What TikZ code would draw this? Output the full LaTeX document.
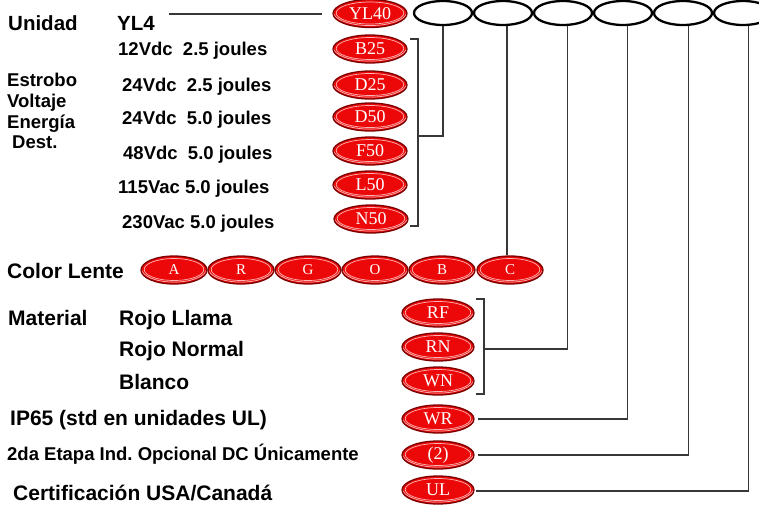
\documentclass[tikz,border=0pt]{standalone}
\usepackage{fontspec}
\usetikzlibrary{shapes.geometric,calc}
\newfontfamily\lsans{Liberation Sans}
\newfontfamily\lserif{Liberation Serif}
\definecolor{btnred}{RGB}{236,8,8}
\definecolor{btndark}{RGB}{125,0,0}
\definecolor{linegray}{RGB}{55,55,55}
\tikzset{
  redbtn/.style={ellipse, minimum width=#1, minimum height=28pt, inner sep=0pt,
    fill=btnred, draw=btndark, line width=1.3pt, text=white,
    font=\lserif\fontsize{18}{18}\selectfont,
    path picture={\path let \p1=(path picture bounding box.north east),
        \p2=(path picture bounding box.south west) in
        [draw=btndark, line width=1.6pt]
        ([yshift=1.6pt]path picture bounding box.center) ellipse
        [x radius={0.5*\x1-0.5*\x2-0.3pt}, y radius={0.5*\y1-0.5*\y2-0.3pt}]
        [draw=white, draw opacity=0.7, line width=0.7pt]
        ([yshift=0.5pt]path picture bounding box.center) ellipse
        [x radius={0.5*\x1-0.5*\x2-3.2pt}, y radius={0.5*\y1-0.5*\y2-3pt}];}},
  redbtn/.default=74pt,
  wov/.style={ellipse, draw=black, line width=2.3pt, minimum width=58pt,
    minimum height=24pt, inner sep=0pt},
  lbl/.style={anchor=base west, inner sep=0pt, font=\lsans\bfseries\fontsize{#1}{#1}\selectfont\frenchspacing},
  lbl/.default=21,
  conn/.style={draw=linegray, line width=1.3pt}
}
\begin{document}
\begin{tikzpicture}[x=1pt,y=-1pt]
\useasboundingbox (0,0) rectangle (759,509);
% text labels
\node[lbl=20.5] (unidad) at (8,30) {Unidad};
\node[lbl=20.5] (yl4) at (117,30) {YL4};
\node[lbl=18.5] (v1) at (118,55) {12Vdc\ \ 2.5 joules};
\node[lbl=18.5] (v2) at (122,91) {24Vdc\ \ 2.5 joules};
\node[lbl=18.5] (v3) at (122,124) {24Vdc\ \ 5.0 joules};
\node[lbl=18.5] (v4) at (123,159) {48Vdc\ \ 5.0 joules};
\node[lbl=18.5] (v5) at (118,193) {115Vac 5.0 joules};
\node[lbl=18.5] (v6) at (122,228) {230Vac 5.0 joules};
\node[lbl=18.5] (e1) at (7,86) {Estrobo};
\node[lbl=18.5] (e2) at (7,107) {Voltaje};
\node[lbl=18.5] (e3) at (7,128) {Energía};
\node[lbl=18.5] (e4) at (12,148) {Dest.};
\node[lbl] (color) at (7,278) {Color Lente};
\node[lbl] (mat) at (8,325) {Material};
\node[lbl] (m1) at (119,325) {Rojo Llama};
\node[lbl] (m2) at (119,356) {Rojo Normal};
\node[lbl] (m3) at (119,389) {Blanco};
\node[lbl] (ip) at (10,425) {IP65 (std en unidades UL)};
\node[lbl=18.5] (etapa) at (7,460) {2da Etapa Ind. Opcional DC Únicamente};
\node[lbl] (cert) at (13,500) {Certificación USA/Canadá};
% top row
\node[redbtn] (yl40) at (370,13.5) {YL40};
\node[wov] (w1) at (443,13) {};
\node[wov] (w2) at (503,13) {};
\node[wov] (w3) at (563,13) {};
\node[wov] (w4) at (623,13) {};
\node[wov] (w5) at (683,13) {};
\node[wov] (w6) at (743,13) {};
% strobe options
\node[redbtn] (b25) at (370,49) {B25};
\node[redbtn] (d25) at (370,85) {D25};
\node[redbtn] (d50) at (370,117) {D50};
\node[redbtn] (f50) at (370,151) {F50};
\node[redbtn] (l50) at (370,185) {L50};
\node[redbtn] (n50) at (371,219) {N50};
% lens colours
\node[redbtn=66pt, font=\lserif\fontsize{15}{15}\selectfont] (ca) at (174,270) {A};
\node[redbtn=66pt, font=\lserif\fontsize{15}{15}\selectfont] (cr) at (241,270) {R};
\node[redbtn=66pt, font=\lserif\fontsize{15}{15}\selectfont] (cg) at (308,270) {G};
\node[redbtn=66pt, font=\lserif\fontsize{15}{15}\selectfont] (co) at (375,270) {O};
\node[redbtn=66pt, font=\lserif\fontsize{15}{15}\selectfont] (cb) at (442,270) {B};
\node[redbtn=66pt, font=\lserif\fontsize{15}{15}\selectfont] (cc) at (510,270) {C};
% material etc.
\node[redbtn=72pt] (rf) at (438,313) {RF};
\node[redbtn=72pt] (rn) at (438,347) {RN};
\node[redbtn=72pt] (wn) at (438,381) {WN};
\node[redbtn=72pt] (wr) at (438,419) {WR};
\node[redbtn=72pt] (two) at (438,455) {(2)};
\node[redbtn=72pt] (ul) at (438,490) {UL};
% coordinates for brackets
\coordinate (br1t) at (418,39);
\coordinate (br1b) at (418,226);
\coordinate (br1m) at (418,136);
\coordinate (br2t) at (484,299);
\coordinate (br2b) at (484,394);
\coordinate (br2m) at (484,349);
\coordinate (yl4end) at (169,14);
% connectors
\draw[conn] (yl4end) -- ([xshift=-10pt]yl40.west |- yl4end);
\draw[conn] ([xshift=-8pt]br1t) -- (br1t) -- (br1b) -- ([xshift=-8pt]br1b);
\draw[conn] (w1.south) |- (br1m);
\draw[conn] ([xshift=-8pt]br2t) -- (br2t) -- (br2b) -- ([xshift=-8pt]br2b);
\draw[conn] ([xshift=4.3pt]w3.south) |- (br2m);
\draw[conn] ([xshift=4pt]w2.south) -- ([xshift=4pt]w2.south |- cc.north);
\draw[conn] ([xshift=4.7pt]w4.south) |- ([xshift=3pt]wr.east);
\draw[conn] ([xshift=5.3pt]w5.south) |- ([xshift=3pt]two.east);
\draw[conn] ([xshift=5.7pt]w6.south) |- ([xshift=1pt,yshift=-1pt]ul.east);
\end{tikzpicture}
\end{document}
